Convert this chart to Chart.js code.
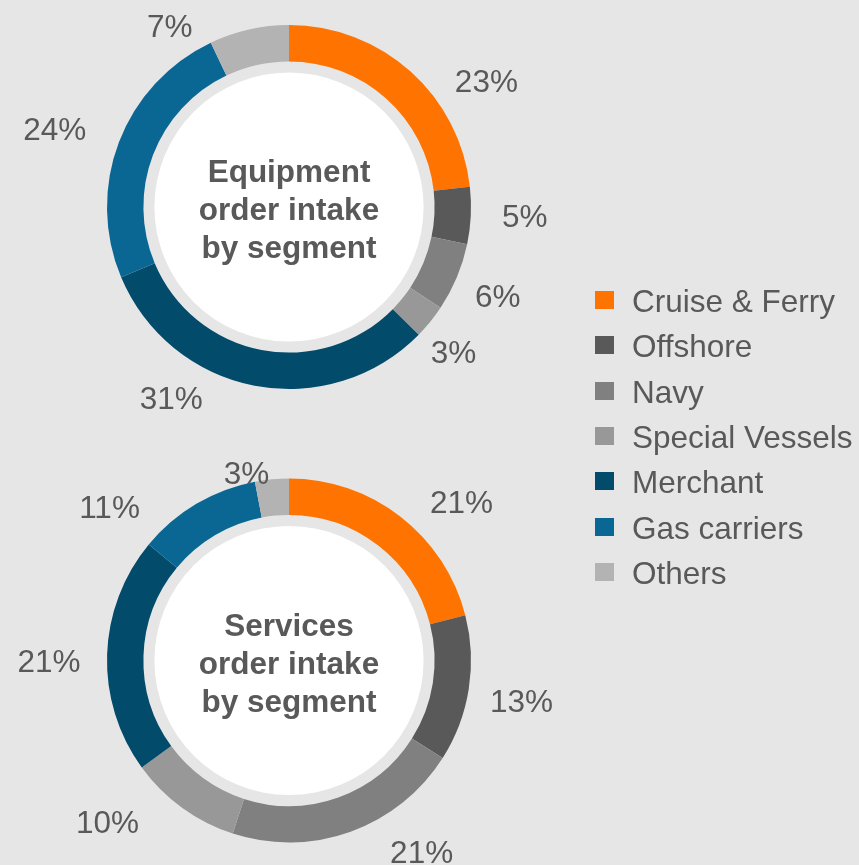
<!DOCTYPE html>
<html><head><meta charset="utf-8">
<script src="https://cdn.jsdelivr.net/npm/chart.js@4/dist/chart.umd.min.js"></script>
<style>
html,body{margin:0;padding:0;background:#e6e6e6;width:859px;height:865px;overflow:hidden;font-family:"Liberation Sans",Arial,sans-serif;}
canvas{position:absolute;left:0;top:0;}
.row{position:absolute;left:595px;height:31px;line-height:31px;font-size:31.5px;color:#595959;white-space:nowrap;}
.sw{position:absolute;left:0;top:5px;width:19px;height:18px;}
.lt{position:absolute;left:37px;top:0;}
</style></head><body>
<canvas id="c1" width="859" height="865"></canvas>
<canvas id="c2" width="859" height="865"></canvas>
<div id="legend"></div>
<script>
// ---- data ----
const segments = ['Cruise & Ferry','Offshore','Navy','Special Vessels','Merchant','Gas carriers','Others'];
const equipmentShare = [23, 5, 6, 3, 31, 24, 7];
const servicesShare = [21, 13, 21, 10, 21, 11, 3];
const equipmentTitle = ['Equipment', 'order intake', 'by segment'];
const servicesTitle = ['Services', 'order intake', 'by segment'];

// ---- style ----
const segmentColors = ['#ff7300','#595959','#808080','#989898','#024b6b','#0a6794','#b3b3b3'];
const textColor = '#595959';
// label placement: [angle offset (deg) from slice middle, gap (px) beyond outer radius]
const equipmentLabelPlacement = [[15.7,52],[-0.5,54],[0.4,45],[2.2,37],[20.8,42],[-2.4,65],[-20.6,35]];
const servicesLabelPlacement = [[9.7,52],[0.9,54],[-14.9,51],[12.3,61],[-1.9,58],[-18.9,54],[-7.4,10]];

const doughnutDecor = {
  id: 'doughnutDecor',
  afterDatasetsDraw(chart, args, opts) {
    const ctx = chart.ctx;
    const meta = chart.getDatasetMeta(0);
    const arcs = meta.data;
    const cx = arcs[0].x, cy = arcs[0].y;
    const inner = arcs[0].innerRadius, outer = arcs[0].outerRadius;
    ctx.save();
    // white centre disc
    ctx.beginPath();
    ctx.arc(cx, cy, inner - 11, 0, Math.PI * 2);
    ctx.fillStyle = '#ffffff';
    ctx.fill();
    // title
    ctx.fillStyle = textColor;
    ctx.textAlign = 'center';
    ctx.textBaseline = 'alphabetic';
    ctx.font = 'bold 31.5px "Liberation Sans", Arial, sans-serif';
    const offs = [-25, 13, 51];
    opts.title.forEach((t, i) => ctx.fillText(t, cx, cy + offs[i]));
    // value labels
    ctx.font = '31.5px "Liberation Sans", Arial, sans-serif';
    const vals = chart.data.datasets[0].data;
    arcs.forEach((a, i) => {
      const mid = (a.startAngle + a.endAngle) / 2;
      const p = opts.placement[i];
      const ang = mid + p[0] * Math.PI / 180;
      const r = outer + p[1];
      const x = cx + r * Math.cos(ang);
      const y = cy + r * Math.sin(ang);
      ctx.fillText(vals[i] + '%', x, y + 11);
    });
    ctx.restore();
  }
};

function makeChart(id, values, title, placement, padding) {
  return new Chart(document.getElementById(id), {
    type: 'doughnut',
    data: {
      labels: segments,
      datasets: [{ data: values, backgroundColor: segmentColors, borderWidth: 0 }]
    },
    options: {
      responsive: false,
      animation: false,
      events: [],
      cutout: '80%',
      layout: { padding: padding },
      plugins: {
        legend: { display: false },
        tooltip: { enabled: false },
        doughnutDecor: { title: title, placement: placement }
      }
    },
    plugins: [doughnutDecor]
  });
}

makeChart('c1', equipmentShare, equipmentTitle, equipmentLabelPlacement,
  { left: 107, right: 388, top: 25, bottom: 476 });
makeChart('c2', servicesShare, servicesTitle, servicesLabelPlacement,
  { left: 107, right: 388, top: 478, bottom: 22 });

// HTML legend
const legend = document.getElementById('legend');
segments.forEach((s, i) => {
  const row = document.createElement('div');
  row.className = 'row';
  row.style.top = (286 + i * 45.3) + 'px';
  const sw = document.createElement('div');
  sw.className = 'sw';
  sw.style.background = segmentColors[i];
  const lt = document.createElement('div');
  lt.className = 'lt';
  lt.textContent = s;
  row.appendChild(sw); row.appendChild(lt);
  legend.appendChild(row);
});
</script>
</body></html>
